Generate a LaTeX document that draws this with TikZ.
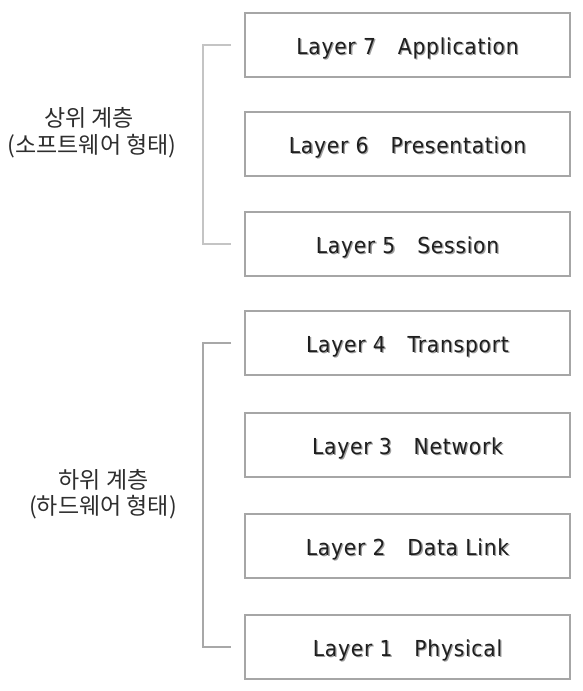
\documentclass[tikz,border=0pt]{standalone}
\usepackage{fontspec}
\setmainfont{DejaVu Sans}[FakeStretch=0.92,LetterSpace=3.5]
\newfontfamily\krfont{Noto Sans CJK KR}
\definecolor{boxgray}{HTML}{A6A6A6}
\definecolor{brlight}{HTML}{C4C4C4}
\definecolor{brdark}{HTML}{A8A8A8}
\definecolor{txt}{HTML}{1E1E1E}
\definecolor{shadowc}{HTML}{A0A0A0}
\definecolor{krtxt}{HTML}{2E2E2E}
\begin{document}
\begin{tikzpicture}[x=1pt,y=-1pt,
  layerbox/.style={draw=boxgray,line width=2.2pt,minimum width=325pt,minimum height=64pt,inner sep=0pt},
  layertxt/.style={anchor=base,font=\fontsize{22}{26}\selectfont,text=txt,inner sep=0pt},
  layershadow/.style={anchor=base,font=\fontsize{22}{26}\selectfont,text=shadowc,inner sep=0pt},
  krlabel/.style={anchor=base,font=\krfont\fontsize{23}{28}\selectfont,text=krtxt,inner sep=0pt},
  brlightline/.style={draw=brlight,line width=1.3pt},
  brdarkline/.style={draw=brdark,line width=1.8pt}]
\useasboundingbox (0,0) rectangle (583,691);
\fill[white] (0,0) rectangle (583,691);
% boxes
\foreach \n/\cy/\lab in {7/45/Application,6/144/Presentation,5/244/Session,4/343/Transport,3/445/Network,2/546/Data Link,1/647/Physical}{
  \node[layerbox] (L\n) at (407.5,\cy) {};
  \node[layershadow] (S\n) at ([shift={(1.3pt,-1.3pt)}]L\n.center) [yshift=-9.3pt] {Layer \n\hspace{22pt}\lab};
  \node[layertxt] (T\n) at (L\n.center) [yshift=-9.3pt] {Layer \n\hspace{22pt}\lab};
}
% bracket anchors
\coordinate (u1) at (231,45);
\coordinate (u2) at (231,244);
\coordinate (d1) at (231,343);
\coordinate (d2) at (231,647);
\draw[brlightline] (u1) -- (203,45) -- (203,244) -- (u2);
\draw[brdarkline] (d1) -- (203,343) -- (203,647) -- (d2);
% Korean labels
\node[krlabel] (up1) at (89,126.5) {상위 계층};
\node[krlabel] (up2) at (92,153) {(소프트웨어 형태)};
\node[krlabel] (dn1) at (103.5,488.5) {하위 계층};
\node[krlabel] (dn2) at (103,514) {(하드웨어 형태)};
\end{tikzpicture}
\end{document}
